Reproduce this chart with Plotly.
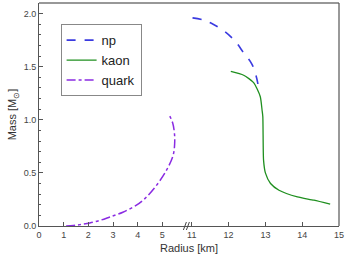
import plotly.graph_objects as go

# Data (Radius km, Mass Msun)
np_r = [11.02, 11.31, 11.58, 11.90, 12.18, 12.41, 12.64, 12.79, 12.80]
np_m = [1.96, 1.94, 1.90, 1.83, 1.74, 1.63, 1.52, 1.35, 1.29]

kaon_r = [12.06, 12.41, 12.68, 12.86, 12.91, 12.93, 12.95, 13.00, 13.14, 13.37, 13.87, 14.32, 14.76]
kaon_m = [1.456, 1.42, 1.35, 1.22, 1.09, 1.03, 0.62, 0.50, 0.40, 0.337, 0.274, 0.243, 0.205]

quark_r = [1.1, 1.4, 1.66, 2.06, 2.5, 2.87, 3.4, 3.95, 4.3, 4.77, 5.17, 5.44, 5.50, 5.49, 5.42, 5.28]
quark_m = [0.0, 0.005, 0.013, 0.028, 0.055, 0.085, 0.13, 0.196, 0.26, 0.385, 0.526, 0.668, 0.78, 0.876, 0.97, 1.046]

left_ticks = [0, 1, 2, 3, 4, 5]
right_ticks = [11, 12, 13, 14, 15]
y_ticks = [0.0, 0.5, 1.0, 1.5, 2.0]

fig = go.Figure()
fig.add_trace(go.Scatter(x=np_r, y=np_m, mode="lines", name="np", xaxis="x2",
                         line=dict(color="#3a3ae0", width=1.6, dash="dash", shape="spline")))
fig.add_trace(go.Scatter(x=kaon_r, y=kaon_m, mode="lines", name="kaon", xaxis="x2",
                         line=dict(color="#1f8f1f", width=1.3, shape="spline", smoothing=0.6)))
fig.add_trace(go.Scatter(x=quark_r, y=quark_m, mode="lines", name="quark", xaxis="x",
                         line=dict(color="#8a2be2", width=1.5, dash="dashdot", shape="spline")))

split = 148 / 300
tickfont = dict(family="Liberation Sans, Arial", size=9, color="#444")
fig.update_layout(
    width=346, height=257,
    margin=dict(l=39, r=7, t=3, b=31),
    plot_bgcolor="white", paper_bgcolor="white",
    showlegend=True,
    legend=dict(x=0.072, y=0.905, xanchor="left", yanchor="top",
                bordercolor="#888", borderwidth=1, bgcolor="white",
                font=dict(family="Liberation Sans, Arial", size=13, color="#222"),
                tracegroupgap=0, itemwidth=30),
    xaxis=dict(domain=[0, split], range=[0, 6], tickvals=left_ticks,
               ticks="inside", ticklen=4, tickcolor="#555", showgrid=False,
               zeroline=False, showline=True, linecolor="#555", linewidth=1,
               tickfont=tickfont),
    xaxis2=dict(domain=[split, 1], range=[10.87, 15], tickvals=right_ticks,
                ticks="inside", ticklen=4, tickcolor="#555", showgrid=False,
                zeroline=False, showline=True, linecolor="#555", linewidth=1,
                tickfont=tickfont, anchor="y"),
    yaxis=dict(range=[0, 2.1], tickvals=y_ticks, tickformat=".1f",
               ticks="inside", ticklen=4, tickcolor="#555", showgrid=False,
               zeroline=False, showline=True, linecolor="#555", linewidth=1,
               tickfont=tickfont,
               minor=dict(dtick=0.1, ticks="inside", ticklen=2, tickcolor="#555"),
               title=dict(text="Mass [M<sub>⊙</sub>]", standoff=4,
                          font=dict(family="Liberation Sans, Arial", size=11, color="#333"))),
    annotations=[dict(text="Radius [km]", x=0.5, y=-0.099, xref="paper", yref="paper",
                      xanchor="center", yanchor="middle", showarrow=False,
                      font=dict(family="Liberation Sans, Arial", size=11, color="#333"))],
    shapes=[
        dict(type="line", xref="paper", yref="paper", x0=0, x1=1, y0=1, y1=1,
             line=dict(color="#333", width=1.2)),
        dict(type="line", xref="paper", yref="paper", x0=1, x1=1, y0=0, y1=1,
             line=dict(color="#555", width=1.2)),
        dict(type="line", xref="paper", yref="paper", x0=split - 0.012, x1=split - 0.002,
             y0=-0.018, y1=0.018, line=dict(color="#444", width=1)),
        dict(type="line", xref="paper", yref="paper", x0=split - 0.002, x1=split + 0.008,
             y0=-0.018, y1=0.018, line=dict(color="#444", width=1)),
    ],
)
fig.write_html("out.html")
